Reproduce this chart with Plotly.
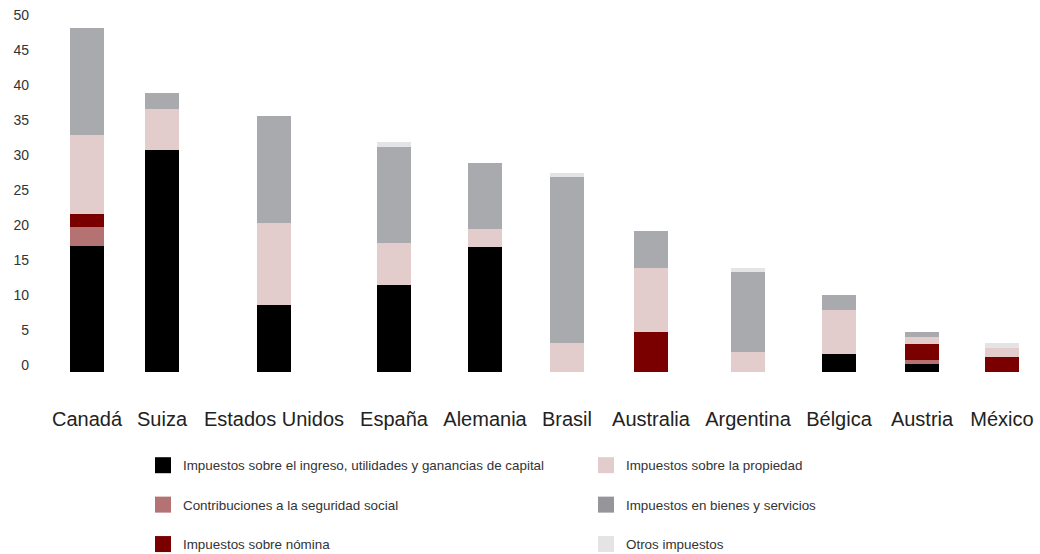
import plotly.graph_objects as go

# Countries and revenue composition (% of total), stacked bottom to top
paises = ["Canadá", "Suiza", "Estados Unidos", "España", "Alemania", "Brasil",
          "Australia", "Argentina", "Bélgica", "Austria", "México"]

ingreso    = [18.0, 31.7, 9.6, 12.4, 17.9, 0.0, 0.0, 0.0, 2.6, 1.1, 0.0]
seguridad  = [2.7, 0.0, 0.0, 0.0, 0.0, 0.0, 0.0, 0.0, 0.0, 0.6, 0.0]
nomina     = [1.9, 0.0, 0.0, 0.0, 0.0, 0.0, 5.7, 0.0, 0.0, 2.3, 2.1]
propiedad  = [11.3, 5.9, 11.7, 6.1, 2.6, 4.1, 9.1, 2.9, 6.3, 1.0, 1.4]
bienes     = [15.2, 2.3, 15.3, 13.6, 9.3, 23.7, 5.3, 11.4, 2.1, 0.7, 0.0]
otros      = [0.0, 0.0, 0.0, 0.7, 0.0, 0.7, 0.0, 0.6, 0.0, 0.0, 0.6]

y_ticks = [0, 5, 10, 15, 20, 25, 30, 35, 40, 45, 50]

# Horizontal slot for each country (pixel-like units on the x axis)
x_pos = [87, 162, 274, 394, 485, 567, 651, 748, 839, 922, 1002]
BAR_W = 34

series = [
    ("Impuestos sobre el ingreso, utilidades y ganancias de capital", ingreso, "#000000", "#000000", 1, "legend"),
    ("Contribuciones a la seguridad social", seguridad, "#b47372", "#b47372", 3, "legend"),
    ("Impuestos sobre nómina", nomina, "#7a0000", "#7a0000", 5, "legend"),
    ("Impuestos sobre la propiedad", propiedad, "#e3cdcc", "#e3cdcc", 2, "legend2"),
    ("Impuestos en bienes y servicios", bienes, "#a9aaad", "#96969a", 4, "legend2"),
    ("Otros impuestos", otros, "#e4e4e6", "#e4e4e6", 6, "legend2"),
]

fig = go.Figure()
for i, (name, vals, color, legcolor, rank, leg) in enumerate(series):
    grp = f"g{i}"
    fig.add_trace(go.Bar(
        x=x_pos, y=vals, width=BAR_W, name=name,
        marker=dict(color=color, line=dict(width=0)),
        legendgroup=grp, showlegend=False,
        hovertemplate="%{text}: %{y}<extra>" + name + "</extra>",
        text=paises, textposition="none",
    ))
    # legend swatch
    fig.add_trace(go.Scatter(
        x=[None], y=[None], mode="markers", name=name,
        marker=dict(symbol="square", size=16, color=legcolor),
        legendgroup=grp, legendrank=rank, legend=leg, showlegend=True,
    ))

L, T = 35, 15
PLOT_BOTTOM = 372
W, H = 1040, 554
LEG_TOP = 450

legend_common = dict(
    orientation="v", yanchor="top", xanchor="left",
    xref="container", yref="container",
    font=dict(family="Liberation Sans, Arial, sans-serif", size=13.4, color="#333333"),
    bgcolor="rgba(0,0,0,0)", tracegroupgap=19, itemclick=False, itemdoubleclick=False,
)

fig.update_layout(
    width=W, height=H,
    margin=dict(l=L, r=0, t=T, b=H - PLOT_BOTTOM, autoexpand=False),
    barmode="stack",
    plot_bgcolor="white", paper_bgcolor="white",
    font=dict(family="Liberation Sans, Arial, sans-serif", color="#222222"),
    xaxis=dict(
        range=[L, W], tickmode="array", tickvals=x_pos, ticktext=paises,
        showgrid=False, zeroline=False, showline=False, ticks="",
        tickfont=dict(size=20, color="#222222"), ticklabelstandoff=33,
        fixedrange=True, automargin=False,
    ),
    yaxis=dict(
        range=[0, (PLOT_BOTTOM - T) / 7.0], tickmode="array", tickvals=y_ticks,
        showgrid=False, zeroline=False, showline=False, ticks="",
        tickfont=dict(size=14, color="#333333"), ticklabelshift=-7,
        ticklabelstandoff=5, fixedrange=True, automargin=False,
    ),
    legend=dict(x=143 / W, y=1 - LEG_TOP / H, **legend_common),
    legend2=dict(x=586 / W, y=1 - LEG_TOP / H, **legend_common),
    showlegend=True,
)

fig.write_html("out.html")
